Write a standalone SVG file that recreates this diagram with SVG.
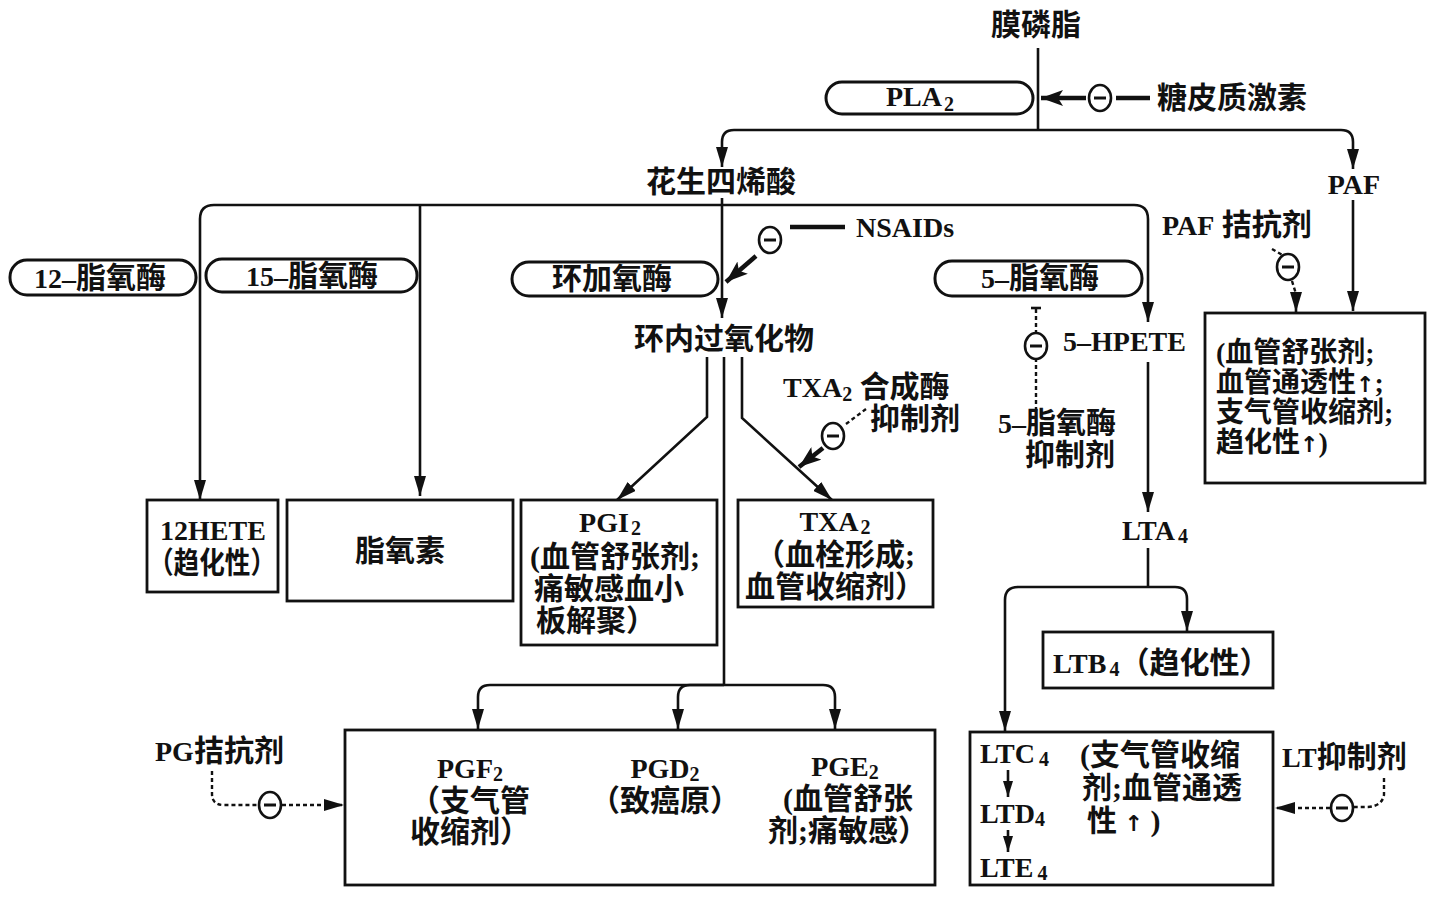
<svg xmlns="http://www.w3.org/2000/svg" width="1440" height="910" viewBox="0 0 1440 910">
<defs>
<style>
.t{font-family:"Liberation Serif","Noto Sans CJK SC",serif;font-weight:bold;font-size:30px;fill:#111}
.lat{font-size:28px}
.pb{font-size:28px}
.m{text-anchor:middle}
.sub{font-size:20px}
.up{font-family:"DejaVu Sans",sans-serif;font-size:22px;fill:#111}
.ln{fill:none;stroke:#111;stroke-width:2.6}
.fat{fill:none;stroke:#111;stroke-width:4.5}
.dash{fill:none;stroke:#111;stroke-width:2.4;stroke-dasharray:4 3}
.box{fill:#fff;stroke:#111;stroke-width:2.8}
.pill{fill:#fff;stroke:#111;stroke-width:3}
.neg ellipse{fill:#fff;stroke:#111;stroke-width:2.6}
.neg line{stroke:#111;stroke-width:3}
</style>
<marker id="a" viewBox="0 0 20 12" refX="20" refY="6" markerWidth="20" markerHeight="12" markerUnits="userSpaceOnUse" orient="auto">
<path d="M0 0 L20 6 L0 12 Z" fill="#111"/>
</marker>
<marker id="as" viewBox="0 0 16 10" refX="16" refY="5" markerWidth="16" markerHeight="10" markerUnits="userSpaceOnUse" orient="auto">
<path d="M0 0 L16 5 L0 10 Z" fill="#111"/>
</marker>
<marker id="af" viewBox="0 0 22 16" refX="22" refY="8" markerWidth="22" markerHeight="16" markerUnits="userSpaceOnUse" orient="auto">
<path d="M0 0 L22 8 L0 16 L5 8 Z" fill="#111"/>
</marker>
<g id="neg" class="neg"><ellipse cx="0" cy="0" rx="11" ry="13"/><line x1="-6" y1="0" x2="6" y2="0"/></g>
</defs>
<rect width="1440" height="910" fill="#fff"/>

<g id="connectors">
<path class="ln" d="M1038 48 V130"/>
<path class="ln" d="M1038 130 H734 Q722 130 722 142 V167" marker-end="url(#a)"/>
<path class="ln" d="M1038 130 H1341 Q1353 130 1353 142 V169" marker-end="url(#a)"/>
<path class="fat" d="M1150 98 H1116"/>
<path class="fat" d="M1086 98 H1041" marker-end="url(#af)"/>
<path class="ln" d="M722 198 V318" marker-end="url(#a)"/>
<path class="ln" d="M722 205 H214 Q200 205 200 219 V500" marker-end="url(#a)"/>
<path class="ln" d="M722 205 H1134 Q1148 205 1148 219 V322" marker-end="url(#a)"/>
<path class="ln" d="M420 205 V496" marker-end="url(#a)"/>
<path class="fat" d="M790 227 H845"/>
<path class="fat" d="M756 256 L726 282" marker-end="url(#af)"/>
<path class="ln" d="M1353 200 V311" marker-end="url(#a)"/>
<path class="dash" d="M1272 249 L1284 256"/>
<path class="dash" d="M1292 281 L1296 294"/>
<path class="ln" d="M1296 292 V312" marker-end="url(#a)"/>
<path class="ln" d="M1031 308 H1041"/>
<path class="dash" d="M1036 309 V412"/>
<path class="ln" d="M707 357 V417 L617 500" marker-end="url(#a)"/>
<path class="ln" d="M742 357 V418 L832 500" marker-end="url(#a)"/>
<path class="ln" d="M724 357 V685"/>
<path class="ln" d="M724 685 H490 Q478 685 478 697 V729" marker-end="url(#a)"/>
<path class="ln" d="M724 685 H690 Q678 685 678 697 V729" marker-end="url(#a)"/>
<path class="ln" d="M724 685 H823 Q835 685 835 697 V729" marker-end="url(#a)"/>
<path class="dash" d="M866 409 L846 424"/>
<path class="fat" d="M823 448 L799 467" marker-end="url(#af)"/>
<path class="ln" d="M1148 362 V512" marker-end="url(#a)"/>
<path class="ln" d="M1148 548 V587"/>
<path class="ln" d="M1148 587 H1018 Q1005 587 1005 600 V731" marker-end="url(#a)"/>
<path class="ln" d="M1148 587 H1175 Q1187 587 1187 599 V631" marker-end="url(#a)"/>
<path class="dash" d="M212 771 V794 Q212 805 224 805 H258"/>
<path class="dash" d="M282 805 H344" marker-end="url(#a)"/>
<path class="dash" d="M1384 778 V795 Q1382 806 1368 807 H1354"/>
<path class="dash" d="M1330 808 H1275" marker-end="url(#a)"/>
<use href="#neg" x="1100" y="98"/>
<use href="#neg" x="770" y="240"/>
<use href="#neg" x="1288" y="267"/>
<use href="#neg" x="1036" y="346"/>
<use href="#neg" x="833" y="436"/>
<use href="#neg" x="270" y="805"/>
<use href="#neg" x="1342" y="808"/>
</g>

<g id="n-mem"><text class="t m" x="1036" y="35">膜磷脂</text></g>
<g id="n-pla2"><rect class="pill" x="826" y="82" width="207" height="32" rx="16"/><text class="t lat m" x="920" y="106">PLA<tspan class="sub" dx="2" dy="5">2</tspan></text></g>
<g id="n-gc"><text class="t" x="1157" y="108">糖皮质激素</text></g>
<g id="n-aa"><text class="t m" x="721" y="192">花生四烯酸</text></g>
<g id="n-paf"><text class="t lat m" x="1354" y="194">PAF</text></g>
<g id="n-nsaid"><text class="t lat" x="856" y="237">NSAIDs</text></g>
<g id="n-pafant"><text class="t" x="1162" y="235"><tspan class="lat">PAF</tspan> 拮抗剂</text></g>
<g id="n-12lo"><rect class="pill" x="10" y="260" width="186" height="35" rx="17"/><text class="t m" x="100" y="288"><tspan class="lat">12–</tspan>脂氧酶</text></g>
<g id="n-15lo"><rect class="pill" x="206" y="259" width="211" height="33" rx="16"/><text class="t m" x="312" y="286"><tspan class="lat">15–</tspan>脂氧酶</text></g>
<g id="n-cox"><rect class="pill" x="512" y="262" width="206" height="34" rx="17"/><text class="t m" x="612" y="289">环加氧酶</text></g>
<g id="n-5lo"><rect class="pill" x="935" y="261" width="207" height="35" rx="17"/><text class="t m" x="1040" y="288"><tspan class="lat">5–</tspan>脂氧酶</text></g>
<g id="n-endo"><text class="t m" x="724" y="349">环内过氧化物</text></g>
<g id="n-hpete"><text class="t lat" x="1063" y="351">5–HPETE</text></g>
<g id="n-txainh"><text class="t" x="783" y="397"><tspan class="lat">TXA</tspan><tspan class="sub" dy="4">2</tspan><tspan dy="-4"> 合成酶</tspan></text><text class="t" x="870" y="429">抑制剂</text></g>
<g id="n-5loinh"><text class="t" x="998" y="433"><tspan class="lat">5–</tspan>脂氧酶</text><text class="t" x="1025" y="465">抑制剂</text></g>
<g id="n-pafbox"><rect class="box" x="1205" y="313" width="220" height="170"/>
<text class="t pb" x="1216" y="362">(血管舒张剂;</text>
<text class="t pb" x="1216" y="392">血管通透性<tspan class="up">↑</tspan>;</text>
<text class="t pb" x="1216" y="422">支气管收缩剂;</text>
<text class="t pb" x="1216" y="452">趋化性<tspan class="up">↑</tspan>)</text></g>
<g id="n-12hete"><rect class="box" x="147" y="500" width="131" height="92"/><text class="t lat m" x="213" y="540">12HETE</text><text class="t m" x="212" y="573" textLength="128" lengthAdjust="spacingAndGlyphs">（趋化性）</text></g>
<g id="n-lipoxin"><rect class="box" x="287" y="500" width="226" height="101"/><text class="t m" x="400" y="561">脂氧素</text></g>
<g id="n-pgi2"><rect class="box" x="521" y="500" width="196" height="145"/><text class="t lat m" x="610" y="532">PGI<tspan class="sub" dx="2" dy="3">2</tspan></text>
<text class="t" x="530" y="567">(血管舒张剂;</text><text class="t" x="534" y="599">痛敏感血小</text><text class="t" x="536" y="631">板解聚）</text></g>
<g id="n-txa2"><rect class="box" x="738" y="500" width="195" height="107"/><text class="t lat m" x="835" y="531">TXA<tspan class="sub" dx="2" dy="3">2</tspan></text>
<text class="t m" x="835" y="565">（血栓形成;</text><text class="t m" x="835" y="597">血管收缩剂）</text></g>
<g id="n-lta4"><text class="t lat" x="1122" y="540">LTA<tspan class="sub" dx="3" dy="3">4</tspan></text></g>
<g id="n-ltb4"><rect class="box" x="1043" y="632" width="230" height="56"/><text class="t" x="1053" y="673"><tspan class="lat">LTB</tspan><tspan class="sub" dx="3" dy="3">4</tspan><tspan dy="-3">（趋化性）</tspan></text></g>
<g id="n-pg"><rect class="box" x="345" y="730" width="590" height="155"/>
<text class="t lat m" x="470" y="778">PGF<tspan class="sub" dy="3">2</tspan></text><text class="t m" x="470" y="811">（支气管</text><text class="t m" x="470" y="842">收缩剂）</text>
<text class="t lat m" x="665" y="778">PGD<tspan class="sub" dy="3">2</tspan></text><text class="t m" x="665" y="811">（致癌原）</text>
<text class="t lat m" x="845" y="776">PGE<tspan class="sub" dy="3">2</tspan></text><text class="t m" x="848" y="809">(血管舒张</text><text class="t m" x="848" y="841">剂;痛敏感）</text></g>
<g id="n-pgant"><text class="t" x="155" y="761"><tspan class="lat">PG</tspan>拮抗剂</text></g>
<g id="n-lt"><rect class="box" x="970" y="732" width="303" height="153"/>
<path class="ln" d="M1008 770 V797" marker-end="url(#as)"/>
<path class="ln" d="M1008 830 V852" marker-end="url(#as)"/>
<text class="t lat" x="980" y="763">LTC<tspan class="sub" dx="4" dy="3">4</tspan></text>
<text class="t lat" x="980" y="823">LTD<tspan class="sub" dy="3">4</tspan></text>
<text class="t lat" x="980" y="877">LTE<tspan class="sub" dx="4" dy="3">4</tspan></text>
<text class="t" x="1080" y="765">(支气管收缩</text>
<text class="t" x="1082" y="798">剂;血管通透</text>
<text class="t" x="1087" y="831">性 <tspan class="up">↑</tspan> )</text></g>
<g id="n-ltinh"><text class="t" x="1282" y="767"><tspan class="lat">LT</tspan>抑制剂</text></g>
</svg>
